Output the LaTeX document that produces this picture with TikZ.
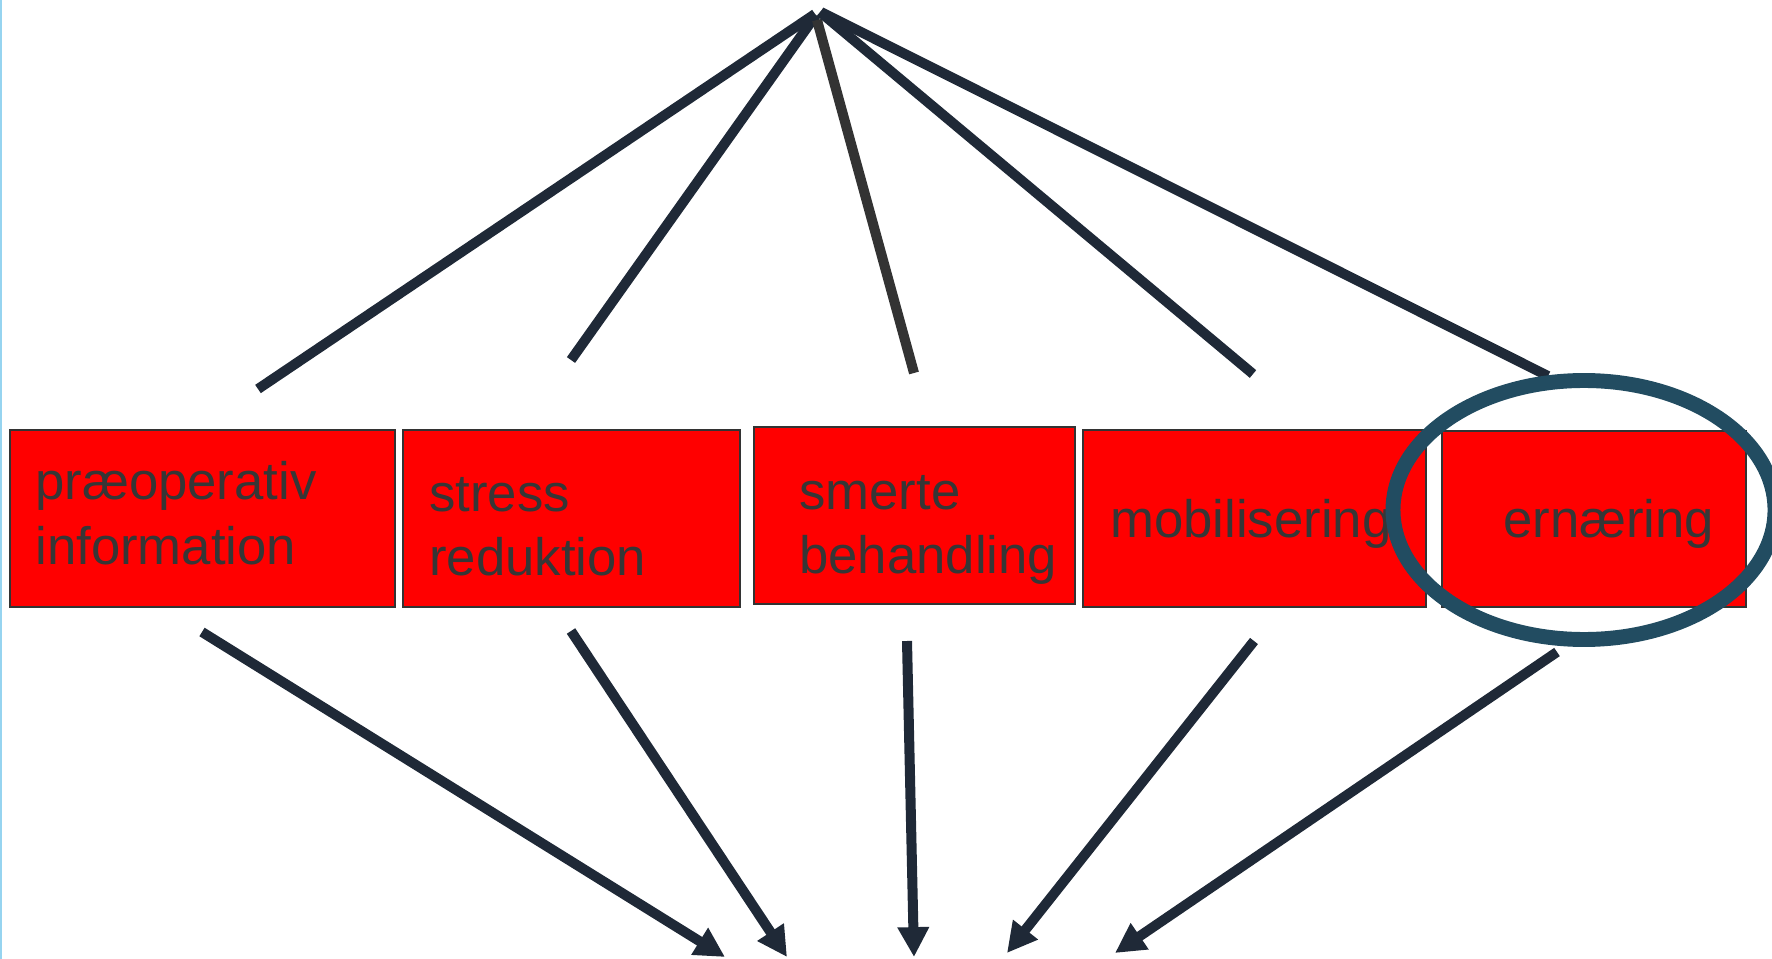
\documentclass[tikz,border=0pt]{standalone}
\usepackage{fontspec}
\setmainfont{Liberation Sans}
\usetikzlibrary{arrows.meta,shapes.geometric}
\definecolor{navy}{RGB}{31,41,55}
\definecolor{grayline}{RGB}{51,51,51}
\definecolor{txt}{RGB}{54,54,54}
\definecolor{ringc}{RGB}{34,76,97}
\definecolor{edgeblue}{RGB}{150,212,240}
\tikzset{
  box/.style={draw=grayline, line width=1pt, fill=red, anchor=north west, inner sep=0pt, minimum height=177*0.02cm},
  lbl/.style={anchor=base west, inner sep=0pt, text=txt, font=\fontsize{30}{36}\selectfont},
  topline/.style={draw=navy, line width=5.7pt},
  downarrow/.style={draw=navy, line width=5.7pt, -{Triangle[length=17pt,width=17pt]}},
  ringstyle/.style={draw=ringc, line width=8.5pt},
}
\begin{document}
\begin{tikzpicture}[x=0.02cm,y=-0.02cm]
\useasboundingbox (0,0) rectangle (1772,959);
\draw[edgeblue, line width=1pt] (1,0) -- (1,959);
% boxes
\node[box, minimum width=385*0.02cm] (b1) at (9,429) {};
\node[box, minimum width=337*0.02cm] (b2) at (402,429) {};
\node[box, minimum width=321*0.02cm] (b3) at (753,426) {};
\node[box, minimum width=343*0.02cm] (b4) at (1082,429) {};
\node[box, minimum width=304*0.02cm, minimum height=176*0.02cm] (b5) at (1441,430) {};
% labels
\node[lbl] (t1a) at (35,500) {præoperativ};
\node[lbl] (t1b) at (35,564) {information};
\node[lbl] (t2a) at (429,511) {stress};
\node[lbl] (t2b) at (429,575) {reduktion};
\node[lbl] (t3a) at (799,509) {smerte};
\node[lbl] (t3b) at (799,573) {behandling};
\node[lbl] (t4) at (1110,538) {mobilisering};
\node[lbl] (t5) at (1503,538) {ernæring};
% top lines
\coordinate (a1) at (815,14);
\coordinate (a2) at (816,15);
\coordinate (a3) at (817,20);
\coordinate (a4) at (820,12);
\coordinate (a5) at (821,12);
\coordinate (e1) at (258,389);
\coordinate (e2) at (571,360);
\coordinate (e3) at (914,373);
\coordinate (e4) at (1253,374);
\coordinate (e5) at (1548,376);
\draw[topline] (a1) -- (e1);
\draw[topline] (a2) -- (e2);
\draw[topline, draw=grayline] (a3) -- (e3);
\draw[topline] (a4) -- (e4);
\draw[topline] (a5) -- (e5);
% ellipse highlight
\coordinate (rc) at (1584,510);
\draw[ringstyle] (rc) ellipse [x radius=191, y radius=129.5];
% bottom arrows
\coordinate (s1) at (202,632);
\coordinate (s2) at (571,631);
\coordinate (s3) at (907,641);
\coordinate (s4) at (1254,641);
\coordinate (s5) at (1557,652);
\coordinate (p1) at (725,957);
\coordinate (p2) at (787,957);
\coordinate (p3) at (914,957);
\coordinate (p4) at (1007,953);
\coordinate (p5) at (1115,953);
\draw[downarrow] (s1) -- (p1);
\draw[downarrow] (s2) -- (p2);
\draw[downarrow] (s3) -- (p3);
\draw[downarrow] (s4) -- (p4);
\draw[downarrow] (s5) -- (p5);
\end{tikzpicture}
\end{document}
